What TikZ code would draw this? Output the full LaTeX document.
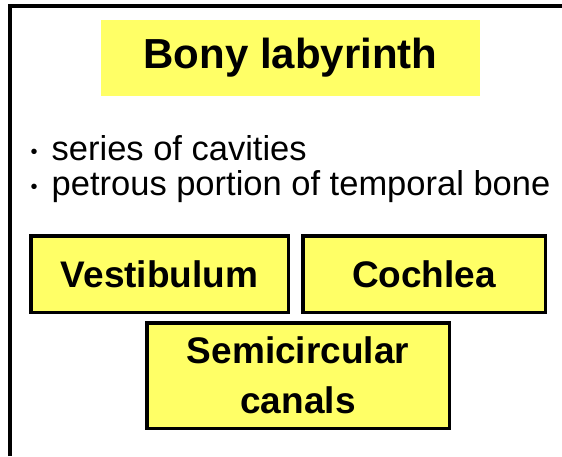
\documentclass[tikz,border=0pt]{standalone}
\usepackage{fontspec}
\setmainfont{Liberation Sans}
\usepackage{tikz}
\usetikzlibrary{positioning}

\newcommand{\dotmark}{\raisebox{2pt}{\fontsize{20}{20}\selectfont\textbullet}\hspace{14pt}}

\begin{document}
\begin{tikzpicture}[
    x=1pt, y=-1pt,
    titlebox/.style={
        fill=boxyellow, minimum width=379pt, minimum height=76pt,
        font=\fontsize{42}{50}\selectfont\bfseries, align=center, inner sep=0pt
    },
    partbox/.style={
        draw, line width=3.5pt, fill=boxyellow, minimum height=76.5pt,
        font=\fontsize{37}{50}\selectfont\bfseries, align=center, inner sep=0pt
    },
    bullet/.style={anchor=base west, inner sep=0pt, font=\fontsize{34.5}{40}\selectfont},
    frame/.style={line width=4pt}
]

% Colours
\definecolor{boxyellow}{HTML}{FFFF66}

% Page area and slide frame
\useasboundingbox (0,0) rectangle (562,456);
\draw[frame] (10,456) -- (10,6) -- (562,6);

% Heading
\node[titlebox] (title) at (290.5, 58) {Bony labyrinth};

% Bullet points
\node[bullet] (pt1) at (30.5, 160) {\dotmark series of cavities};
\node[bullet] (pt2) at (30.5, 195) {\dotmark petrous portion of temporal bone};

% Parts of the bony labyrinth
\node[partbox, minimum width=257.5pt] (vest) at (159.5, 274) {Vestibulum};
\node[partbox, minimum width=242.5pt] (coch) at (424, 274) {Cochlea};
\node[partbox, minimum width=302.5pt, minimum height=105.5pt] (semi) at (298, 375.5) {Semicircular\\canals};

\end{tikzpicture}
\end{document}
